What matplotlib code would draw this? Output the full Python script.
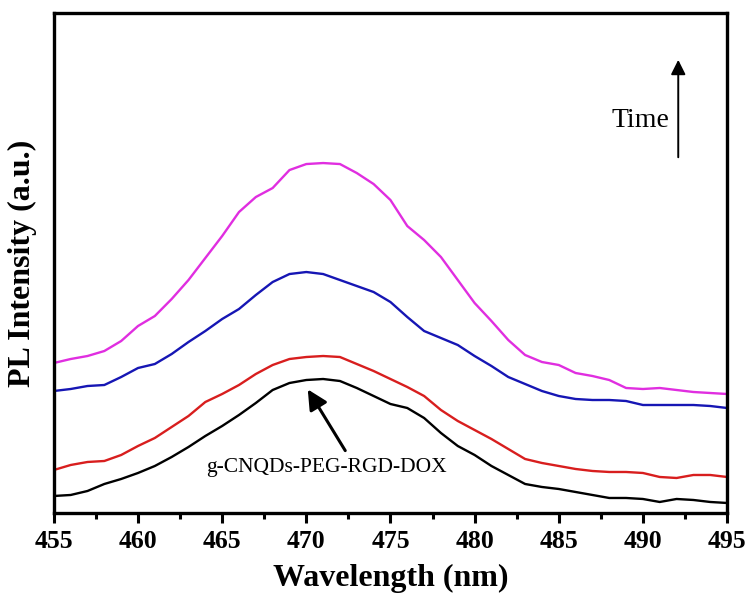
import matplotlib
matplotlib.use("Agg")
import matplotlib.pyplot as plt
import numpy as np

plt.rcParams['font.family'] = ['Liberation Serif', 'DejaVu Serif']

wavelength = np.arange(455, 496)

black = [17, 18, 22, 29, 34, 40, 47, 56, 66, 77, 87, 98, 110, 123, 130, 133, 134, 132, 125, 117, 109,
         105, 95, 80, 67, 58, 47, 38, 29, 26, 24, 21, 18, 15, 15, 14, 11, 14, 13, 11, 10]
red = [43, 48, 51, 52, 58, 67, 75, 86, 97, 111, 119, 128, 139, 148, 154, 156, 157, 156, 149, 142, 134,
       126, 117, 103, 92, 83, 74, 64, 54, 50, 47, 44, 42, 41, 41, 40, 36, 35, 38, 38, 36]
blue = [122, 124, 127, 128, 136, 145, 149, 159, 171, 182, 194, 204, 218, 231, 239, 241, 239, 233, 227, 221, 211,
        196, 182, 175, 168, 157, 147, 136, 129, 122, 117, 114, 113, 113, 112, 108, 108, 108, 108, 107, 105]
magenta = [150, 154, 157, 162, 172, 187, 197, 214, 233, 255, 277, 301, 316, 325, 343, 349, 350, 349, 340, 329, 313,
           287, 273, 256, 233, 210, 192, 173, 158, 151, 148, 140, 137, 133, 125, 124, 125, 123, 121, 120, 119]

series = [black, red, blue, magenta]
colors = ['black', '#d81e1e', '#1616b4', '#e02ee0']

fig = plt.figure(figsize=(7.48, 5.94), dpi=100)
ax = fig.add_axes([0.072, 0.1364, 0.9, 0.8416])

for s, c in zip(series, colors):
    ax.plot(wavelength, s, color=c, lw=1.7)

ax.set_xlim(455, 495)
ax.set_ylim(0, 500)
ax.set_xticks(np.arange(455, 496, 5))
ax.set_xticks(np.arange(457.5, 495, 5), minor=True)
ax.set_yticks([])
ax.tick_params(axis='x', which='major', direction='out', length=7, width=2.2, labelsize=18.5, pad=5)
ax.tick_params(axis='x', which='minor', direction='out', length=4, width=2.2)
for lab in ax.get_xticklabels():
    lab.set_fontweight('bold')
for sp in ax.spines.values():
    sp.set_linewidth(2.4)

ax.set_xlabel("Wavelength (nm)", fontsize=23, fontweight='bold', labelpad=8)
ax.set_ylabel("PL Intensity (a.u.)", fontsize=23, fontweight='bold', labelpad=12)

# sample label with arrow
ax.annotate("", xy=(470.0, 126), xytext=(472.4, 60),
            arrowprops=dict(arrowstyle='-|>', lw=2.2, color='black', mutation_scale=30))
ax.text(471.2, 45, "g-CNQDs-PEG-RGD-DOX", fontsize=15.5, ha='center', va='center')

# time arrow
ax.annotate("", xy=(492.1, 456), xytext=(492.1, 353),
            arrowprops=dict(arrowstyle='-|>', lw=1.4, color='black', mutation_scale=22))
ax.text(491.6, 393, "Time", fontsize=20, ha='right', va='center')

fig.savefig("out.png", dpi=100)
